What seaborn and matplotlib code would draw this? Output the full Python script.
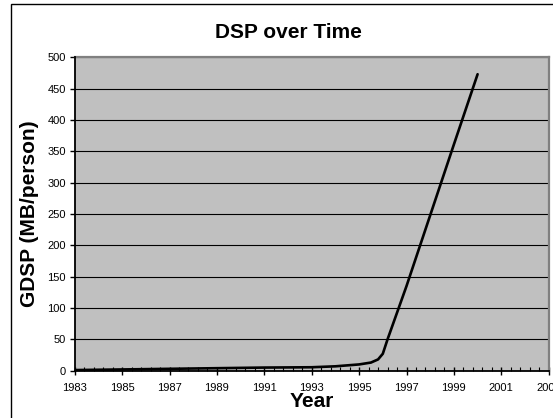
import numpy as np
import pandas as pd
import matplotlib
matplotlib.use("Agg")
import matplotlib.pyplot as plt
from matplotlib.patches import Rectangle
from matplotlib.ticker import FixedLocator
import seaborn as sns

# data
years = [1983, 1985, 1987, 1989, 1991, 1993, 1994, 1995, 1995.5, 1995.8, 1996, 1996.2, 1997, 1998, 1999, 2000]
gdsp = [1.0, 2.0, 3.0, 4.0, 5.0, 5.5, 7.0, 10.0, 13.0, 18.0, 27.0, 50.0, 135.0, 248.0, 361.0, 473.0]
major_years = list(range(1983, 2004, 2))
y_ticks = list(range(0, 501, 50))

df = pd.DataFrame({"Year": years, "GDSP": gdsp})

sns.set_style("white")
plt.rcParams['font.family'] = ['Liberation Sans', 'DejaVu Sans']
plt.rcParams['text.color'] = 'black'
plt.rcParams['xtick.color'] = 'black'
plt.rcParams['ytick.color'] = 'black'
plt.rcParams['xtick.labelcolor'] = 'black'
plt.rcParams['ytick.labelcolor'] = 'black'

fig = plt.figure(figsize=(5.53, 4.18), dpi=100)
fig.patch.set_facecolor("white")

# outer chart border (cut off on the right and bottom like the reference)
fig.patches.append(Rectangle((11 / 553, -0.1), 1.2, 1.1 - 4 / 418, transform=fig.transFigure,
                             fill=False, edgecolor="black", linewidth=1.0))

ax = fig.add_axes([74.7 / 553, 1 - 370.7 / 418, (548.7 - 74.7) / 553, (370.7 - 57.3) / 418])
ax.set_facecolor("#C0C0C0")

for v in y_ticks[1:]:
    ax.axhline(v, color="black", lw=0.8, zorder=1)

sns.lineplot(data=df, x="Year", y="GDSP", color="black", linewidth=1.9,
             estimator=None, ax=ax, zorder=3)

ax.set_xlim(1983, 2003)
ax.set_ylim(0, 500)
ax.set_xticks(major_years)
ax.xaxis.set_minor_locator(FixedLocator(np.arange(1983, 2003.01, 0.4)))
ax.set_yticks(y_ticks)
ax.tick_params(axis="x", which="major", direction="inout", length=6, width=1,
               labelsize=8, pad=5.5, color="black", bottom=True)
ax.tick_params(axis="x", which="minor", direction="in", length=3, width=0.8,
               color="black", bottom=True)
ax.tick_params(axis="y", which="major", direction="out", length=3.5, width=1,
               labelsize=8, pad=3, color="black", left=True)
ax.set_xlabel("")
ax.set_ylabel("")

for side in ["left", "bottom"]:
    ax.spines[side].set_color("black")
    ax.spines[side].set_linewidth(1.3)
    ax.spines[side].set_zorder(4)
for side in ["top", "right"]:
    ax.spines[side].set_color("#808080")
    ax.spines[side].set_linewidth(1.6)

fig.text(288 / 553, 1 - 38.3 / 418, "DSP over Time", ha="center", va="baseline",
         fontsize=15, fontweight="bold", color="black")
fig.text(311.5 / 553, 1 - 406.7 / 418, "Year", ha="center", va="baseline",
         fontsize=15, fontweight="bold", color="black")
fig.text(30 / 553, 1 - 214 / 418, "GDSP (MB/person)", ha="center", va="center",
         rotation=90, fontsize=15, fontweight="bold", color="black")

fig.savefig("out.png", dpi=100)
